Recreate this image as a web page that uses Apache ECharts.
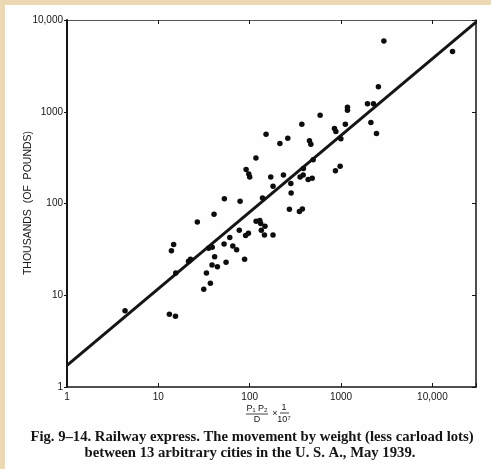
<!DOCTYPE html>
<html>
<head>
<meta charset="utf-8">
<script src="https://cdn.jsdelivr.net/npm/echarts@6/dist/echarts.min.js"></script>
<style>
  html, body { margin: 0; padding: 0; }
  #bg { position: absolute; left: 0; top: 0; width: 491px; height: 469px; background: #ecd9b1; }
  #paper { position: absolute; left: 5px; top: 5px; width: 486px; height: 464px; background: #fefefe; }
  #chart { position: absolute; left: 0; top: 0; width: 491px; height: 469px; }
</style>
</head>
<body>
<div id="bg"></div>
<div id="paper"></div>
<div id="chart"></div>
<script>
// Gravity-model index (P1*P2/D x 1/10^7) for each city pair
const xValues = [4.32, 13.2, 15.4, 13.9, 14.7, 15.5, 21.4, 22.5, 26.7, 31.4,
  33.6, 37.1, 35.5, 38.9, 38.7, 41.3, 40.7, 44.3, 52.8, 52.4,
  55.1, 60.5, 65.3, 71.9, 76.9, 78.5, 87.9, 90.2, 96.8, 91.3,
  97.7, 100, 117, 117.5, 129, 132, 134, 145, 147, 180,
  138, 151, 170, 180, 214, 234, 261, 272, 282, 284,
  350, 377, 356, 385, 387, 436, 483, 451, 467, 495,
  372, 590, 847, 877, 868, 977, 995, 1114, 1175, 1175,
  1946, 2264, 2121, 2442, 2562, 2943, 16600];
// Movement by weight, thousands of pounds
const yValues = [6.78, 6.21, 5.90, 30.6, 35.7, 17.5, 23.5, 24.7, 63.0, 11.6,
  17.5, 13.5, 32.5, 33.4, 21.4, 26.2, 76.4, 20.5, 113, 36.3,
  22.9, 42.7, 34.5, 31.3, 51.1, 106, 24.7, 44.8, 47.4, 234,
  210, 195, 314, 64.1, 65.3, 60.5, 51.1, 45.5, 56.5, 45.5,
  115, 567, 195, 154, 451, 204, 515, 86.7, 165, 130,
  82.0, 87.1, 195, 204, 241, 183, 189, 484, 443, 299,
  729, 918, 658, 610, 227, 255, 509, 729, 1123, 1036,
  1220, 1220, 764, 580, 1878, 5918, 4546];
// Fitted regression line (end points)
const lineX = [1, 30000];
const lineY = [1.72, 9500];
// Axis tick labels
const xTickLabels = {1: '1', 10: '10', 100: '100', 1000: '1000', 10000: '10,000'};
const yTickLabels = {1: '1', 10: '10', 100: '100', 1000: '1000', 10000: '10,000'};
const yAxisTitle = 'THOUSANDS  (OF  POUNDS)';
const captionLines = [
  'Fig. 9\u201314. Railway express. The movement by weight (less carload lots)',
  'between 13 arbitrary cities in the U. S. A., May 1939.'
];

const chart = echarts.init(document.getElementById('chart'), null, {renderer: 'canvas'});
const labelFmt = (map) => (v) => {
  const k = Math.round(v);
  return (map[k] !== undefined && Math.abs(v - k) < 1e-6) ? map[k] : '';
};
const ink = '#151515';
const baseAxis = {
  type: 'log', logBase: 10,
  splitLine: {show: false},
  minorTick: {show: false}
};
const option = {
  animation: false,
  grid: {left: 67, right: 15, top: 20, bottom: 82},
  xAxis: [
    Object.assign({}, baseAxis, {
      min: 1, max: 30000, position: 'bottom',
      axisLine: {lineStyle: {color: ink, width: 1.5}},
      axisTick: {inside: true, length: 4, lineStyle: {color: ink, width: 1}},
      axisLabel: {formatter: labelFmt(xTickLabels), color: ink, fontSize: 10,
        fontFamily: 'Liberation Sans', margin: 5}
    }),
    Object.assign({}, baseAxis, {
      min: 1, max: 30000, position: 'top',
      axisLine: {lineStyle: {color: '#555', width: 1}},
      axisTick: {inside: true, length: 4, lineStyle: {color: ink, width: 1}},
      axisLabel: {show: false}
    })
  ],
  yAxis: [
    Object.assign({}, baseAxis, {
      min: 1, max: 10000, position: 'left',
      axisLine: {lineStyle: {color: ink, width: 2}},
      axisTick: {inside: false, length: 3, lineStyle: {color: ink, width: 1}},
      axisLabel: {formatter: labelFmt(yTickLabels), color: ink, fontSize: 10,
        fontFamily: 'Liberation Sans', margin: 4}
    }),
    Object.assign({}, baseAxis, {
      min: 1, max: 10000, position: 'right',
      axisLine: {lineStyle: {color: ink, width: 1.5}},
      axisTick: {inside: true, length: 4, lineStyle: {color: ink, width: 1}},
      axisLabel: {show: false}
    })
  ],
  series: [
    {
      type: 'line', xAxisIndex: 0, yAxisIndex: 0,
      data: lineX.map((x, i) => [x, lineY[i]]),
      showSymbol: false, symbol: 'none',
      lineStyle: {color: ink, width: 3},
      z: 3
    },
    {
      type: 'scatter', xAxisIndex: 0, yAxisIndex: 0,
      data: xValues.map((x, i) => [x, yValues[i]]),
      symbol: 'circle', symbolSize: 5.5,
      itemStyle: {color: '#0d0d0d', opacity: 1},
      z: 4
    }
  ],
  graphic: [
    {
      type: 'text', x: 28, y: 203, rotation: Math.PI / 2,
      style: {text: yAxisTitle, fill: ink, font: '10.5px "Liberation Sans"',
        textAlign: 'center', textVerticalAlign: 'middle'}
    },
    // x-axis quantity: (P1 P2 / D) x (1 / 10^7)
    {type: 'text', x: 257, y: 409, style: {text: 'P\u2081 P\u2082', fill: ink,
      font: '9px "Liberation Sans"', textAlign: 'center', textVerticalAlign: 'middle'}},
    {type: 'line', shape: {x1: 246, y1: 414, x2: 268, y2: 414}, style: {stroke: ink, lineWidth: 0.8}},
    {type: 'text', x: 257, y: 420, style: {text: 'D', fill: ink,
      font: '9px "Liberation Sans"', textAlign: 'center', textVerticalAlign: 'middle'}},
    {type: 'text', x: 275, y: 414, style: {text: '\u00d7', fill: ink,
      font: '9px "Liberation Sans"', textAlign: 'center', textVerticalAlign: 'middle'}},
    {type: 'text', x: 284, y: 408, style: {text: '1', fill: ink,
      font: '9px "Liberation Sans"', textAlign: 'center', textVerticalAlign: 'middle'}},
    {type: 'line', shape: {x1: 280, y1: 413, x2: 289, y2: 413}, style: {stroke: ink, lineWidth: 0.8}},
    {type: 'text', x: 284, y: 420, style: {text: '10\u2077', fill: ink,
      font: '9px "Liberation Sans"', textAlign: 'center', textVerticalAlign: 'middle'}},
    {type: 'text', x: 252, y: 437, style: {text: captionLines[0], fill: ink,
      font: 'bold 14.7px "Liberation Serif"', textAlign: 'center', textVerticalAlign: 'middle'}},
    {type: 'text', x: 250, y: 453, style: {text: captionLines[1], fill: ink,
      font: 'bold 14.7px "Liberation Serif"', textAlign: 'center', textVerticalAlign: 'middle'}}
  ]
};
chart.setOption(option);
</script>
</body>
</html>
